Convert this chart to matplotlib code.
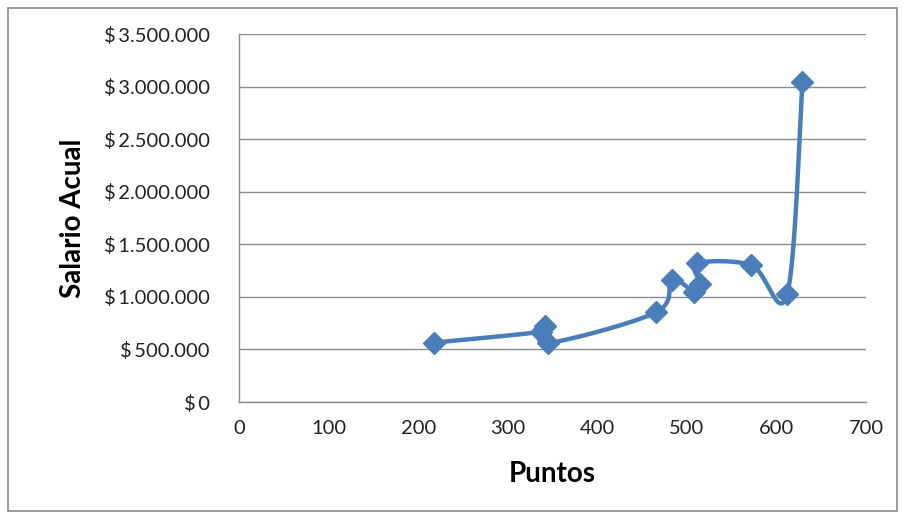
import numpy as np
import matplotlib
matplotlib.use("Agg")
import matplotlib.pyplot as plt
from matplotlib.ticker import FixedLocator, FuncFormatter
from matplotlib.patches import Rectangle

# Puntos vs salario actual, in the order the series was entered
puntos = [218, 337, 342, 345, 466, 483, 508, 515, 511, 572, 612, 629]
salario = [565000, 668000, 725000, 560000, 855000, 1165000, 1050000, 1125000,
           1318000, 1302000, 1025000, 3045000]

x_ticks = [0, 100, 200, 300, 400, 500, 600, 700]
y_ticks = [0, 500000, 1000000, 1500000, 2000000, 2500000, 3000000, 3500000]

LINE_BLUE = "#4A7EBB"
GRID_GRAY = "#8C8C8C"
FONT = ["Lato", "DejaVu Sans"]


def smooth_curve(xs, ys, steps=40):
    """Bezier smoothing through every point (control points at 1/6 of the
    neighbour chord), the same curve a spreadsheet 'smoothed line' draws."""
    p = np.column_stack([xs, ys]).astype(float)
    n = len(p)
    out = [p[0]]
    t = np.linspace(0, 1, steps)[1:, None]
    for i in range(n - 1):
        p0 = p[i - 1] if i > 0 else p[i]
        p1, p2 = p[i], p[i + 1]
        p3 = p[i + 2] if i + 2 < n else p[i + 1]
        c1 = p1 + (p2 - p0) / 6.0
        c2 = p2 - (p3 - p1) / 6.0
        seg = ((1 - t) ** 3) * p1 + 3 * ((1 - t) ** 2) * t * c1 \
            + 3 * (1 - t) * t ** 2 * c2 + t ** 3 * p2
        out.extend(seg)
    out = np.array(out)
    return out[:, 0], out[:, 1]


fig = plt.figure(figsize=(9.05, 5.19), dpi=100)
W, H = 905, 519

# outer chart frame
fig.patches.append(Rectangle((8 / W, 8 / H), (897 - 8) / W, (511 - 8) / H,
                             transform=fig.transFigure, fill=False,
                             edgecolor="#8A8A8A", linewidth=1.2))

left, right, top, bottom = 239, 866, 34, 402
ax = fig.add_axes([left / W, 1 - bottom / H, (right - left) / W, (bottom - top) / H])

ax.set_xlim(0, 700)
ax.set_ylim(0, 3500000)
ax.xaxis.set_major_locator(FixedLocator(x_ticks))
ax.yaxis.set_major_locator(FixedLocator(y_ticks))


def money(v, _pos):
    if v == 0:
        return "$\u20090"
    return "$\u2009" + f"{int(v):,}".replace(",", ".")


ax.yaxis.set_major_formatter(FuncFormatter(money))
ax.grid(axis="y", color=GRID_GRAY, linewidth=1.0)
ax.set_axisbelow(True)
for side in ("top", "right"):
    ax.spines[side].set_visible(False)
for side in ("left", "bottom"):
    ax.spines[side].set_color(GRID_GRAY)
    ax.spines[side].set_linewidth(1.0)
ax.tick_params(length=0, labelsize=14.5, colors="#222222")
ax.tick_params(axis="y", pad=21)
ax.tick_params(axis="x", pad=13)
for lab in ax.get_xticklabels() + ax.get_yticklabels():
    lab.set_family(FONT)

sx, sy = smooth_curve(puntos, salario)
ax.plot(sx, sy, color=LINE_BLUE, linewidth=3.2, solid_capstyle="round",
        zorder=3)
ax.plot(puntos, salario, linestyle="none", marker="D", markersize=11,
        color=LINE_BLUE, zorder=4)

ax.set_xlabel("Puntos", fontsize=20, fontweight="bold", family=FONT,
              labelpad=17)
ax.set_ylabel("Salario Acual", fontsize=20, fontweight="bold", family=FONT,
              labelpad=13)

fig.savefig("out.png", dpi=100)
